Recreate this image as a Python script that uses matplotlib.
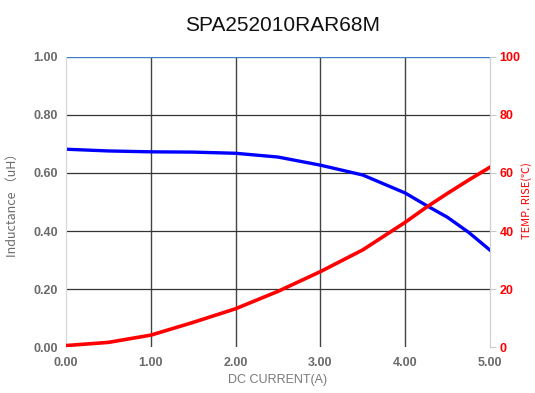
import matplotlib
matplotlib.use('Agg')
import matplotlib.pyplot as plt

plt.rcParams['font.family'] = ['Liberation Sans', 'DejaVu Sans']

# DC current (A)
current = [0.0, 0.5, 1.0, 1.5, 2.0, 2.5, 3.0, 3.5, 4.0, 4.25, 4.5, 4.75, 5.0]
# inductance (uH)
inductance = [0.682, 0.676, 0.673, 0.672, 0.668, 0.655, 0.627, 0.593, 0.531, 0.488, 0.447, 0.395, 0.334]
# temperature rise (C)
temp_rise = [0.5, 1.6, 4.1, 8.5, 13.2, 19.2, 26.0, 33.5, 43.0, 48.2, 53.0, 57.6, 62.0]

x_ticks = [0, 1, 2, 3, 4, 5]
left_ticks = [0.0, 0.2, 0.4, 0.6, 0.8, 1.0]
right_ticks = [0, 20, 40, 60, 80, 100]

fig = plt.figure(figsize=(5.35, 3.93), dpi=100)
ax = fig.add_axes([0.1234, 0.117, 0.7925, 0.738])
ax2 = ax.twinx()

for v in [1, 2, 3, 4]:
    ax.axvline(v, color='#444444', lw=1.0, zorder=1)
for v in [0.2, 0.4, 0.6, 0.8]:
    ax.axhline(v, color='#333333', lw=0.9, zorder=1)
ax.axhline(1.0, color='#3d7cc9', lw=1.0, zorder=1)

ax.plot(current, inductance, color='#0000ff', lw=2.4, zorder=3)
ax2.plot(current, temp_rise, color='#ff0000', lw=2.6, zorder=3)

ax.set_xlim(0, 5)
ax.set_ylim(0, 1)
ax2.set_ylim(0, 100)

ax.set_xticks(x_ticks)
ax.set_xticklabels(['%.2f' % t for t in x_ticks])
ax.set_yticks(left_ticks)
ax.set_yticklabels(['%.2f' % t for t in left_ticks])
ax2.set_yticks(right_ticks)
ax2.set_yticklabels([str(t) for t in right_ticks])

for a in (ax, ax2):
    a.spines['top'].set_visible(False)
    a.spines['left'].set_color('#d8d8d8')
    a.spines['right'].set_color('#d0d0d0')
    a.spines['bottom'].set_linewidth(0)

ax.tick_params(axis='x', length=0, pad=7, labelsize=9, labelcolor='#6a6a6a')
ax.tick_params(axis='y', length=0, pad=6, labelsize=9, labelcolor='#6a6a6a')
ax2.tick_params(axis='y', length=4, width=0.8, color='#c8c8c8', pad=3,
                labelsize=9, labelcolor='#ff0000')
for lab in ax.get_xticklabels() + ax.get_yticklabels() + ax2.get_yticklabels():
    lab.set_fontweight('bold')

ax.set_xlabel('DC CURRENT(A)', fontsize=9, color='#7a7a7a', labelpad=4)
ax.set_ylabel('Inductance （uH）', fontsize=9, color='#6a6a6a', labelpad=10,
              family=['Noto Sans CJK SC', 'DejaVu Sans'])
# right axis title sits at the very edge of the figure
fig.text(527 / 535, 0.49, 'TEMP. RISE(℃)', rotation=90, ha='center', va='center',
         fontsize=8, color='#ff0000', family=['Noto Sans CJK SC', 'DejaVu Sans'])

fig.suptitle('SPA252010RAR68M', x=0.528, y=0.96, fontsize=15, color='#111111')

fig.savefig('out.png', dpi=100)
